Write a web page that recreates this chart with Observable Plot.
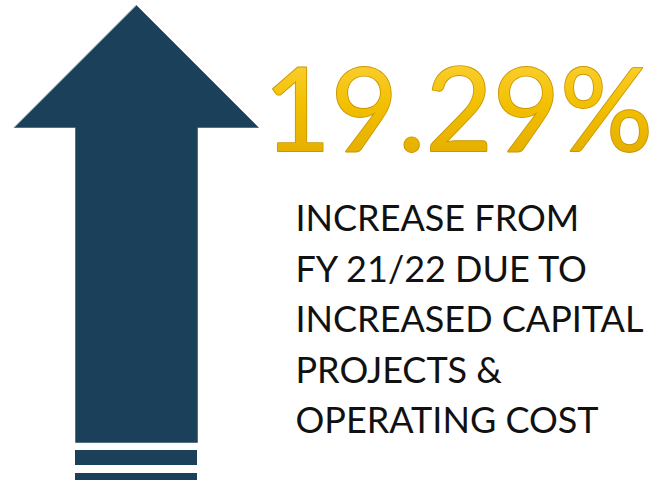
<!DOCTYPE html>
<html>
<head>
<meta charset="utf-8">
<script src="https://cdn.jsdelivr.net/npm/d3@7"></script>
<script src="https://cdn.jsdelivr.net/npm/@observablehq/plot@0.6"></script>
<style>
  html, body { margin: 0; padding: 0; background: #fff; }
</style>
</head>
<body>
<div id="chart"></div>
<script>
// Infographic content
const headline = ["19.29%"];
const bodyLines = [
  "INCREASE FROM",
  "FY 21/22 DUE TO",
  "INCREASED CAPITAL",
  "PROJECTS &",
  "OPERATING COST"
];
// Arrow outline (pixel-space vertices)
const arrowX = [136, 258, 197, 197, 75, 75, 14];
const arrowY = [5, 127, 127, 442, 442, 127, 127];
// Base stripes below the arrow
const stripeTop = [450, 473];
const stripeBottom = [465, 480];

const W = 664, H = 482;
const arrow = arrowX.map((x, i) => ({x, y: arrowY[i]}));
const stripes = stripeTop.map((t, i) => ({x1: 75, x2: 197, y1: t, y2: stripeBottom[i]}));

const navy = "#1b4059";

const chart = Plot.plot({
  width: W,
  height: H,
  margin: 0,
  x: {domain: [0, W], axis: null},
  y: {domain: [0, H], range: [0, H], axis: null},
  marks: [
    Plot.line(arrow, {x: "x", y: "y", fill: navy, stroke: navy, strokeWidth: 0.5, curve: "linear-closed"}),
    Plot.rect(stripes, {x1: "x1", x2: "x2", y1: "y1", y2: "y2", fill: navy}),
    Plot.text(headline, {
      x: 263, y: 113, text: d => d,
      textAnchor: "start", lineAnchor: "middle",
      fontFamily: "Lato", fontSize: 116, fontWeight: 400,
      fill: "url(#gold)", stroke: "#c99600", strokeWidth: 1.8
    }),
    Plot.text(bodyLines, {
      x: 295, y: (d, i) => 219 + i * 50.6, text: d => d,
      textAnchor: "start", lineAnchor: "middle",
      fontFamily: "Lato", fontSize: 36, fill: "#111"
    })
  ]
});

const svg = d3.select(chart);
const defs = svg.insert("defs", ":first-child");
const g = defs.append("linearGradient").attr("id", "gold").attr("x1", 0).attr("y1", 0).attr("x2", 0).attr("y2", 1);
g.append("stop").attr("offset", "0%").attr("stop-color", "#ffd84a");
g.append("stop").attr("offset", "50%").attr("stop-color", "#f2bf00");
g.append("stop").attr("offset", "100%").attr("stop-color", "#e0a800");

document.getElementById("chart").appendChild(chart);
</script>
</body>
</html>
